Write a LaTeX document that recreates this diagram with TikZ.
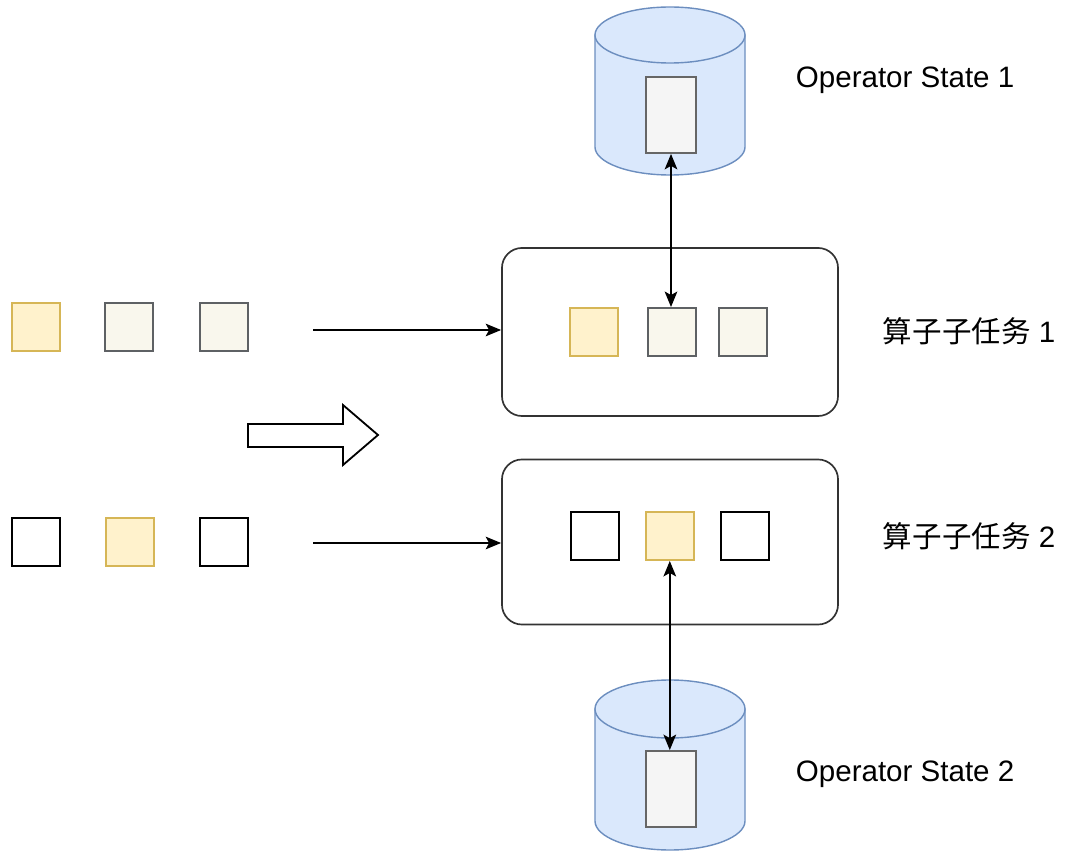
\documentclass[tikz,border=0pt]{standalone}
\usepackage{fontspec}
\setmainfont{Liberation Sans}
\newfontfamily\cjk{Noto Sans CJK SC}
\usepackage{xcolor}
\usetikzlibrary{arrows.meta,positioning}

\definecolor{dbfill}{HTML}{DAE8FC}
\definecolor{dbline}{HTML}{6C8EBF}
\definecolor{yfill}{HTML}{FFF2CC}
\definecolor{yline}{HTML}{D6B656}
\definecolor{gfill}{HTML}{F9F7ED}
\definecolor{gline}{HTML}{36393D}
\definecolor{rfill}{HTML}{F5F5F5}
\definecolor{rline}{HTML}{666666}

\begin{document}
\begin{tikzpicture}[
  x=0.025cm, y=-0.025cm,
  sq/.style={draw, line width=1.4pt, minimum size=1.2cm, inner sep=0pt},
  ysq/.style={sq, draw=yline, fill=yfill},
  gsq/.style={sq, draw=gline!80, fill=gfill},
  wsq/.style={sq, draw=black, fill=white},
  task/.style={draw=black!80, line width=1.2pt, rounded corners=0.5cm, minimum width=8.4cm},
  slot/.style={draw=rline, fill=rfill, line width=1.3pt, minimum width=1.25cm, minimum height=1.9cm, inner sep=0pt},
  cyl/.style={draw=dbline, fill=dbfill, line width=1pt},
  lbl/.style={anchor=west, font=\fontsize{21}{25}\selectfont},
  arrow/.style={-{Stealth[length=11pt,width=9pt,inset=2.5pt]}, line width=1.2pt},
  biarrow/.style={{Stealth[length=11pt,width=9pt,inset=2.5pt]}-{Stealth[length=11pt,width=9pt,inset=2.5pt]}, line width=1.2pt}
]
\useasboundingbox (0,0) rectangle (1080,852);

% state stores
\path[cyl] (595,35) -- (595,147) arc[start angle=180, end angle=0, x radius=75, y radius=28] -- (745,35) -- cycle;
\draw[cyl] (670,35) ellipse[x radius=75, y radius=28];
\node[slot] (st1) at (671,115) {};

\path[cyl] (595,709) -- (595,821) arc[start angle=180, end angle=0, x radius=75, y radius=29] -- (745,709) -- cycle;
\draw[cyl] (670,709) ellipse[x radius=75, y radius=29];
\node[slot] (st2) at (671,789) {};

% subtasks
\node[task, minimum height=4.2cm] (task1) at (670,332) {};
\node[task, minimum height=4.125cm] (task2) at (670,542) {};

\node[ysq] (a1) at (594,332) {};
\node[gsq, right=0.7cm of a1] (b1) {};
\node[gsq, right=0.52cm of b1] (c1) {};

\node[wsq] (a2) at (595,536) {};
\node[ysq, right=0.62cm of a2] (b2) {};
\node[wsq, right=0.62cm of b2] (c2) {};

% incoming records
\node[ysq] (p1) at (36,327) {};
\node[gsq, right=1.08cm of p1] (q1) {};
\node[gsq, right=1.12cm of q1] (r1) {};

\node[wsq] (p2) at (36,542) {};
\node[ysq, right=1.1cm of p2] (q2) {};
\node[wsq, right=1.1cm of q2] (r2) {};

% hollow arrow
\draw[line width=1.3pt, fill=white] (248,424) -- (343,424) -- (343,405) -- (378,435)
  -- (343,465) -- (343,447) -- (248,447) -- cycle;

\coordinate (in1) at (313,330);
\coordinate (in2) at (313,543);
\draw[arrow] (in1) -- (in1 -| task1.west);
\draw[arrow] (in2) -- (in2 -| task2.west);
\draw[biarrow] (st1.south) -- (st1.south |- b1.north);
\draw[biarrow] (b2.south) -- (b2.south |- st2.north);

% labels
\node[lbl] (op1) at (791,80) {Operator State 1};
\node[lbl] (op2) at (791,774) {Operator State 2};
\node[lbl] (sub1) at (878,331) {{\cjk 算子子任务} 1};
\node[lbl] (sub2) at (878,536) {{\cjk 算子子任务} 2};
\end{tikzpicture}
\end{document}
